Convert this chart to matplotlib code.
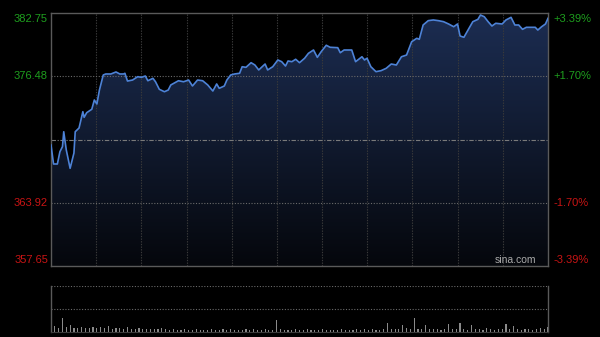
import numpy as np
import matplotlib
matplotlib.use("Agg")
import matplotlib.pyplot as plt
from matplotlib.colors import LinearSegmentedColormap
from matplotlib.patches import Polygon

plt.rcParams["font.family"] = ["Liberation Sans", "DejaVu Sans"]

# minute of session (0..390) and price
minutos = [0, 2, 5, 7, 9, 10, 12, 15, 18, 19, 22, 25, 26, 28, 32, 34, 36, 38, 41, 43,
           47, 51, 54, 57, 58, 60, 64, 68, 71, 74, 76, 80, 82, 85, 89, 92, 94, 100, 104, 108,
           111, 115, 119, 123, 127, 130, 132, 136, 138, 141, 144, 148, 150, 153, 155, 157, 160, 163, 168, 170,
           174, 178, 181, 184, 186, 189, 192, 195, 199, 202, 206, 209, 212, 216, 219, 225, 227, 230, 236, 239,
           244, 246, 248, 251, 255, 259, 263, 267, 271, 275, 279, 283, 287, 289, 292, 296, 300, 304, 308, 312,
           316, 319, 321, 324, 328, 331, 335, 337, 340, 343, 346, 349, 354, 357, 361, 364, 367, 370, 373, 380,
           382, 385, 388, 390]
precios = [369.65, 367.77, 367.77, 368.99, 369.49, 370.97, 369.16, 367.34, 368.86, 370.97,
           371.34, 372.96, 372.40, 372.86, 373.20, 374.12, 373.72, 375.11, 376.60, 376.70,
           376.70, 376.90, 376.70, 376.70, 376.77, 376.00, 376.10, 376.43, 376.37, 376.50,
           376.03, 376.27, 375.93, 375.18, 374.94, 375.11, 375.61, 376.03, 375.93, 376.10,
           375.51, 376.10, 376.03, 375.61, 375.01, 375.71, 375.28, 375.51, 376.10, 376.60,
           376.70, 376.77, 377.42, 377.36, 377.59, 377.82, 377.59, 377.10, 377.69, 377.10,
           377.42, 378.09, 377.92, 377.49, 377.99, 377.92, 378.16, 377.82, 378.26, 378.75,
           379.08, 378.35, 378.91, 379.55, 379.35, 379.31, 378.81, 379.08, 379.08, 377.92,
           378.41, 378.09, 378.26, 377.42, 376.93, 377.03, 377.26, 377.69, 377.59, 378.41,
           378.58, 379.90, 380.24, 380.14, 381.56, 381.99, 382.06, 381.99, 381.89, 381.66,
           381.39, 381.66, 380.47, 380.34, 381.23, 381.89, 382.12, 382.55, 382.38, 381.89,
           381.46, 381.73, 381.66, 382.06, 382.32, 381.56, 381.56, 381.13, 381.33, 381.33,
           381.06, 381.39, 381.66, 382.22]

# volume every 3 minutes (relative units, panel top = 100)
volumen = [10, 12, 8, 29, 11, 14, 9, 8, 11, 9, 8, 10, 9, 11, 8, 12,
           7, 9, 8, 6, 10, 7, 6, 8, 5, 6, 7, 5, 6, 9, 5,
           4, 5, 3, 4, 6, 3, 4, 5, 3, 4, 3, 5, 4, 3, 6, 4, 5, 3, 4, 3, 5, 4, 6, 3, 4, 5, 4, 3,
           25,
           5, 4, 3, 4, 5, 3, 4, 6, 3, 4, 3, 5, 4, 3, 4, 3, 5, 4, 3, 4, 5, 3, 6, 4, 5, 4, 3, 5,
           20, 5, 7, 6, 14, 8, 6, 30, 7, 5, 14, 6, 5, 7, 4, 6, 18, 5, 6, 20, 5, 4, 14, 5, 6, 4,
           9, 5, 4, 6, 5, 16, 6, 13, 5, 4, 6, 5, 4, 7, 9, 7, 10]

cierre_previo = 370.20
y_max, y_min = 382.75, 357.65
niveles = [382.75, 376.48, 363.92, 357.65]
etiquetas_pct = ["+3.39%", "+1.70%", "-1.70%", "-3.39%"]
verde, rojo = "#1e9e1e", "#c81414"

fig = plt.figure(figsize=(6, 3.37), dpi=100, facecolor="black")
ax = fig.add_axes([51 / 600, 1 - 266 / 337, 497 / 600, 253 / 337], facecolor="black")
axv = fig.add_axes([51 / 600, 1 - 331.7 / 337, 497 / 600, 46 / 337], facecolor="black")

# gradient fill under the price line
cmap = LinearSegmentedColormap.from_list("azul", ["#05070c", "#1c2d52"])
grad = np.linspace(0, 1, 256).reshape(-1, 1)
im = ax.imshow(grad, extent=[0, 390, y_min, y_max], origin="lower", aspect="auto",
               cmap=cmap, zorder=1)
verts = [(minutos[0], y_min)] + list(zip(minutos, precios)) + [(minutos[-1], y_min)]
clip = Polygon(verts, closed=True, facecolor="none", edgecolor="none",
               transform=ax.transData)
ax.add_patch(clip)
im.set_clip_path(clip)

# grid
for k in range(1, 11):
    ax.axvline(k * 390 / 11, color="#3a3a3a", lw=0.8, ls=(0, (1.2, 1.2)), zorder=2)
for nv in [376.48, 363.92]:
    ax.axhline(nv, color="#6a6a6a", lw=0.8, ls=(0, (1, 1.5)), zorder=2)
ax.axhline(cierre_previo, color="#7a7a7a", lw=0.8, ls=(0, (4, 1.5, 1, 1.5)), zorder=2)

ax.plot(minutos, precios, color="#4d82d6", lw=1.2, zorder=3)

ax.set_xlim(0, 390)
ax.set_ylim(y_min, y_max)
ax.set_xticks([])
ax.set_yticks([])
for s in ax.spines.values():
    s.set_color("#5a5a5a")
    s.set_linewidth(1.0)

# price / percent labels
for i, (nv, pct) in enumerate(zip(niveles, etiquetas_pct)):
    color = verde if nv > cierre_previo else rojo
    dy = 0
    if i == 0:
        dy = -6
    elif i == len(niveles) - 1:
        dy = 6
    ax.annotate(f"{nv:.2f}", xy=(0, nv), xycoords=("axes fraction", "data"),
                xytext=(-3, dy), textcoords="offset pixels", ha="right", va="center",
                color=color, fontsize=8)
    ax.annotate(pct, xy=(1, nv), xycoords=("axes fraction", "data"),
                xytext=(5, dy), textcoords="offset pixels", ha="left", va="center",
                color=color, fontsize=8)

ax.text(0.976, 0.005, "sina.com", transform=ax.transAxes, ha="right", va="bottom",
        color="#aaaaaa", fontsize=7.5, zorder=4)

# volume panel
xv = np.arange(len(volumen)) * 390 / (len(volumen) - 1)
axv.bar(xv, volumen, width=0.9, color="#8a8a8a", linewidth=0)
axv.axhline(100, color="#6a6a6a", lw=0.8, ls=(0, (1, 1.5)))
axv.axhline(50, color="#6a6a6a", lw=0.8, ls=(0, (1, 1.5)))
axv.set_xlim(0, 390)
axv.set_ylim(0, 101)
axv.set_xticks([])
axv.set_yticks([])
axv.spines["top"].set_visible(False)
axv.spines["bottom"].set_color("#3a3a3a")
for s in ["left", "right"]:
    axv.spines[s].set_color("#5a5a5a")
    axv.spines[s].set_linewidth(1.0)

fig.savefig("out.png", dpi=100, facecolor="black")
